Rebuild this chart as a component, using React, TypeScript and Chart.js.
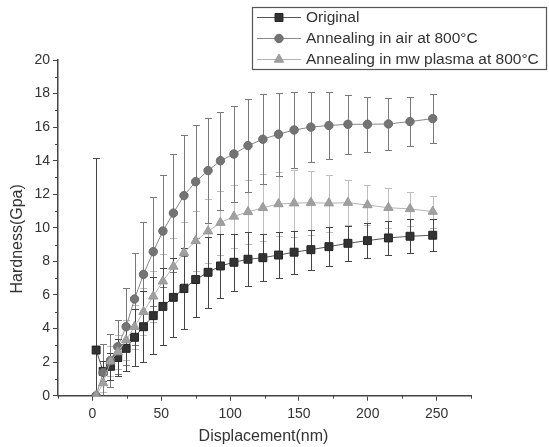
import React, { useEffect, useRef } from "react";
import { Chart, registerables } from "chart.js";

Chart.register(...registerables);

// ---- data ----
const displacement = [2.7, 7.8, 13.1, 18.4, 24.5, 30.6, 37.1, 44.2, 51.2, 58.8, 66.5, 75, 84, 93, 102.8, 113, 123.8, 135.2, 146.5, 158.7, 171.8, 185.6, 199.8, 215, 230.7, 247.2];

const originalHardness = [2.72, 1.45, 1.75, 2.27, 2.82, 3.48, 4.11, 4.77, 5.32, 5.86, 6.38, 6.92, 7.35, 7.73, 7.95, 8.13, 8.22, 8.38, 8.55, 8.7, 8.88, 9.08, 9.24, 9.4, 9.5, 9.56];
const originalError = [11.43, 0.6, 0.8, 1.1, 1.35, 1.7, 2.1, 2.3, 2.3, 2.35, 2.4, 2.25, 2.1, 1.9, 1.7, 1.6, 1.4, 1.38, 1.28, 1.2, 1.15, 1.05, 1.05, 1.0, 1.0, 0.95];

const airHardness = [0, 1.38, 2.1, 2.92, 4.11, 5.76, 7.23, 8.58, 9.81, 10.88, 11.92, 12.75, 13.41, 14.0, 14.4, 14.9, 15.28, 15.58, 15.83, 16.0, 16.1, 16.17, 16.17, 16.19, 16.33, 16.51];
const airError = [0, 1.7, 1.6, 1.6, 2.3, 2.76, 3.1, 3.24, 3.34, 3.5, 3.6, 3.38, 3.12, 2.93, 2.88, 2.78, 2.68, 2.48, 2.29, 2.08, 1.98, 1.75, 1.63, 1.57, 1.45, 1.45];

const plasmaHardness = [0, 0.75, 2.05, 2.6, 3.32, 4.11, 5.0, 5.92, 6.82, 7.7, 8.52, 9.22, 9.8, 10.31, 10.68, 10.95, 11.2, 11.42, 11.47, 11.5, 11.47, 11.5, 11.36, 11.2, 11.13, 10.97];
const plasmaError = [0, 0.5, 0.9, 1.0, 1.2, 1.3, 1.4, 1.5, 1.6, 1.7, 1.8, 1.8, 1.9, 1.9, 1.9, 1.9, 2.0, 1.9, 2.0, 1.9, 1.7, 1.35, 1.2, 1.2, 1.0, 0.95];

const seriesLabels = ["Original", "Annealing in air at 800°C", "Annealing in mw plasma at 800°C"];
const xAxisTitle = "Displacement(nm)";
const yAxisTitle = "Hardness(Gpa)";

const FONT = "'Liberation Sans', Arial, Helvetica, sans-serif";
const TEXT = "#333333";

type Style = { fill: string; border: string; line: string; err: string; shape: string; r: number };
const styles: Style[] = [
  { fill: "#333333", border: "#222222", line: "#555555", err: "#444444", shape: "rect", r: 5.6 },
  { fill: "#747474", border: "#6a6a6a", line: "#888888", err: "#7a7a7a", shape: "circle", r: 4.2 },
  { fill: "#a0a0a0", border: "#999999", line: "#b4b4b4", err: "#bdbdbd", shape: "triangle", r: 5.4 },
];

const toPoints = (ys: number[]) => displacement.map((x, i) => ({ x, y: ys[i] }));

function drawMarker(ctx: CanvasRenderingContext2D, shape: string, x: number, y: number, r: number, fill: string, border: string) {
  ctx.beginPath();
  if (shape === "rect") {
    const s = Math.SQRT1_2 * r;
    ctx.rect(x - s, y - s, 2 * s, 2 * s);
  } else if (shape === "circle") {
    ctx.arc(x, y, r, 0, Math.PI * 2);
  } else {
    ctx.moveTo(x, y - r);
    ctx.lineTo(x + r * 0.866, y + r * 0.5);
    ctx.lineTo(x - r * 0.866, y + r * 0.5);
    ctx.closePath();
  }
  ctx.fillStyle = fill;
  ctx.fill();
  ctx.strokeStyle = border;
  ctx.lineWidth = 1;
  ctx.stroke();
}

const errorBarPlugin = {
  id: "errorBars",
  beforeDatasetsDraw(chart: any) {
    const { ctx, chartArea, scales } = chart;
    const xs = scales.x;
    const ys = scales.y;
    ctx.save();
    ctx.beginPath();
    ctx.rect(chartArea.left, chartArea.top, chartArea.right - chartArea.left, chartArea.bottom - chartArea.top);
    ctx.clip();
    const order = [2, 1, 0];
    order.forEach((k) => {
      const ds = chart.data.datasets[k];
      const errs: number[] = ds.errors;
      ctx.strokeStyle = ds.errColor;
      ctx.lineWidth = 1;
      ds.data.forEach((p: any, j: number) => {
        const e = errs[j];
        if (!e) return;
        const px = Math.round(xs.getPixelForValue(p.x)) + 0.5;
        const top = Math.round(ys.getPixelForValue(p.y + e)) + 0.5;
        const bot = Math.round(ys.getPixelForValue(p.y - e)) + 0.5;
        ctx.beginPath();
        ctx.moveTo(px, top);
        ctx.lineTo(px, bot);
        ctx.moveTo(px - 3.5, top);
        ctx.lineTo(px + 3.5, top);
        ctx.moveTo(px - 3.5, bot);
        ctx.lineTo(px + 3.5, bot);
        ctx.stroke();
      });
    });
    ctx.restore();
  },
};

const decorPlugin = {
  id: "decor",
  afterDraw(chart: any) {
    const { ctx, chartArea, scales } = chart;
    const xs = scales.x;
    const ys = scales.y;
    ctx.save();
    // minor ticks
    ctx.strokeStyle = "#444444";
    ctx.lineWidth = 1;
    xs.ticks.forEach((t: any) => {
      if (t.value % 50 !== 0) {
        const px = Math.round(xs.getPixelForValue(t.value)) + 0.5;
        ctx.beginPath();
        ctx.moveTo(px, chartArea.bottom);
        ctx.lineTo(px, chartArea.bottom + 3);
        ctx.stroke();
      }
    });
    ys.ticks.forEach((t: any) => {
      if (t.value % 2 !== 0) {
        const py = Math.round(ys.getPixelForValue(t.value)) + 0.5;
        ctx.beginPath();
        ctx.moveTo(chartArea.left, py);
        ctx.lineTo(chartArea.left - 3, py);
        ctx.stroke();
      }
    });

    // axis titles
    ctx.fillStyle = TEXT;
    ctx.font = `16px ${FONT}`;
    ctx.textAlign = "center";
    ctx.textBaseline = "middle";
    ctx.fillText(xAxisTitle, (chartArea.left + chartArea.right) / 2 - 1, 437);
    ctx.save();
    ctx.translate(18, (chartArea.top + chartArea.bottom) / 2 + 11);
    ctx.rotate(-Math.PI / 2);
    ctx.fillText(yAxisTitle, 0, 0);
    ctx.restore();

    // legend
    const bx = 252.5, by = 7.5, bw = 294, bh = 62;
    ctx.fillStyle = "#ffffff";
    ctx.fillRect(bx, by, bw, bh);
    ctx.strokeStyle = "#555555";
    ctx.lineWidth = 1.2;
    ctx.strokeRect(bx, by, bw, bh);
    const rowY = [17.5, 38.5, 59.5];
    chart.data.datasets.forEach((ds: any, i: number) => {
      const st = styles[i];
      const cy = rowY[i];
      ctx.strokeStyle = st.line;
      ctx.lineWidth = 1;
      ctx.beginPath();
      ctx.moveTo(257, cy);
      ctx.lineTo(301, cy);
      ctx.stroke();
      drawMarker(ctx, st.shape, 279, cy, st.r, st.fill, st.border);
      ctx.fillStyle = TEXT;
      ctx.font = `15.5px ${FONT}`;
      ctx.textAlign = "left";
      ctx.textBaseline = "middle";
      ctx.fillText(ds.label, 306, cy + 0.5);
    });
    ctx.restore();
  },
};

export default function App() {
  const canvasRef = useRef<HTMLCanvasElement | null>(null);

  useEffect(() => {
    if (!canvasRef.current) return;
    const seriesValues = [originalHardness, airHardness, plasmaHardness];
    const seriesErrors = [originalError, airError, plasmaError];
    const orders = [3, 2, 1];

    const datasets: any[] = seriesValues.map((vals, i) => ({
      label: seriesLabels[i],
      data: toPoints(vals),
      errors: seriesErrors[i],
      errColor: styles[i].err,
      borderColor: styles[i].line,
      borderWidth: 1,
      backgroundColor: styles[i].fill,
      pointBackgroundColor: styles[i].fill,
      pointBorderColor: styles[i].border,
      pointBorderWidth: 1,
      pointStyle: styles[i].shape,
      pointRadius: styles[i].r,
      pointHoverRadius: styles[i].r,
      tension: 0,
      fill: false,
      order: orders[i],
    }));

    const tickColorX = (c: any) => (c.tick && c.tick.value % 50 === 0 ? "#444444" : "rgba(0,0,0,0)");
    const tickColorY = (c: any) => (c.tick && c.tick.value % 2 === 0 ? "#444444" : "rgba(0,0,0,0)");

    const chart = new Chart(canvasRef.current, {
      type: "line",
      data: { datasets },
      plugins: [errorBarPlugin, decorPlugin],
      options: {
        animation: false,
        responsive: true,
        maintainAspectRatio: false,
        layout: { padding: { top: 60, right: 78, left: 0, bottom: 0 } },
        plugins: {
          legend: { display: false },
          tooltip: { enabled: false },
          title: { display: false },
        },
        scales: {
          x: {
            type: "linear",
            min: -25,
            max: 275,
            afterFit: (s: any) => {
              s.height = 51.3;
            },
            grid: {
              display: true,
              drawOnChartArea: false,
              drawTicks: true,
              tickLength: 5,
              tickColor: tickColorX,
              tickWidth: 1,
            },
            border: { display: true, color: "#444444", width: 1.5 },
            ticks: {
              stepSize: 25,
              autoSkip: false,
              maxRotation: 0,
              padding: 5,
              color: TEXT,
              font: { family: FONT, size: 14 },
              callback: (v: any) => (Number(v) % 50 === 0 ? String(v) : ""),
            },
          },
          y: {
            type: "linear",
            min: 0,
            max: 20,
            afterFit: (s: any) => {
              s.width = 58;
            },
            grid: {
              display: true,
              drawOnChartArea: false,
              drawTicks: true,
              tickLength: 5,
              tickColor: tickColorY,
              tickWidth: 1,
            },
            border: { display: true, color: "#444444", width: 1.5 },
            ticks: {
              stepSize: 1,
              autoSkip: false,
              padding: 3,
              color: TEXT,
              font: { family: FONT, size: 14 },
              callback: (v: any) => (Number(v) % 2 === 0 ? String(v) : ""),
            },
          },
        },
      } as any,
    });

    return () => {
      chart.destroy();
    };
  }, []);

  return (
    <div style={{ position: "fixed", left: 0, top: 0, width: 549, height: 447, background: "#ffffff" }}>
      <canvas ref={canvasRef} />
    </div>
  );
}
